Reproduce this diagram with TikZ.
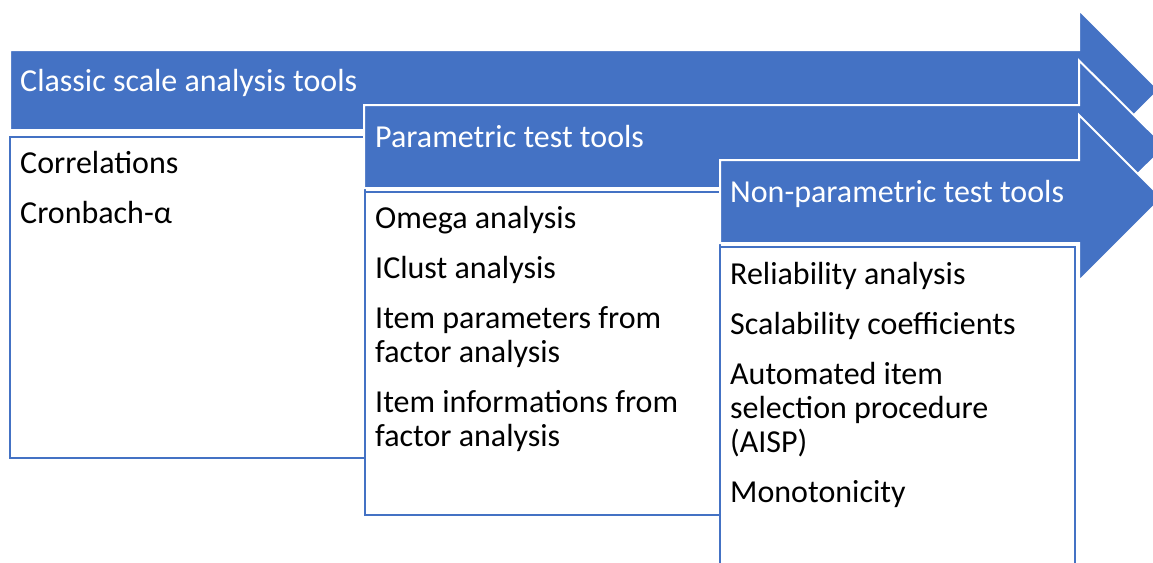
\documentclass[tikz,border=0pt]{standalone}
\usepackage{fontspec}
\setmainfont{Carlito}
\usepackage{tikz}
\definecolor{officeblue}{HTML}{4472C4}

\tikzset{
  stagearrow/.style={fill=officeblue, draw=white, line width=2pt, line join=miter},
  toolbox/.style={fill=white, draw=officeblue, line width=2.5pt},
  headtext/.style={anchor=base west, inner sep=0pt, text=white, font=\fontsize{32}{34}\selectfont},
  itemtext/.style={anchor=north west, inner sep=0pt, align=left, font=\fontsize{32}{34}\selectfont}
}

\begin{document}
\begin{tikzpicture}[x=1pt, y=-1pt]
      % Canvas, same size as the reference
      \useasboundingbox (0,0) rectangle (1153,562);
      \clip (0,0) rectangle (1153,562);

      % First stage: classic tools
      \draw[stagearrow] (10,50) -- (1079,50) -- (1079,10) -- (1159,90)
        -- (1079,170) -- (1079,130) -- (10,130) -- cycle;
      \node[headtext] (classic) at (20,91) {Classic scale analysis tools};
      \draw[toolbox] (10,137) rectangle (365,458);
      \node[itemtext] (classicitems) at (20,151.5) {Correlations\\[16pt]Cronbach-α};

      % Second stage: parametric tools
      \draw[stagearrow] (364,105) -- (1079,105) -- (1079,60.5) -- (1165.5,146.5)
        -- (1079,232.5) -- (1079,188) -- (364,188) -- cycle;
      \node[headtext] (param) at (375,147) {Parametric test tools};
      \draw[toolbox] (365,192) rectangle (720,515);
      \node[itemtext] (paramitems) at (375,206.5) {Omega analysis\\[16pt]IClust analysis\\[16pt]%
        Item parameters from\\factor analysis\\[16pt]Item informations from\\factor analysis};

      % Third stage: non-parametric tools
      \draw[stagearrow] (720,160) -- (1079,160) -- (1079,115) -- (1162,198)
        -- (1079,281) -- (1079,243) -- (720,243) -- cycle;
      \node[headtext] (nonparam) at (730,202) {Non-parametric test tools};
      \draw[toolbox] (720,247) rectangle (1075,600);
      \node[itemtext] (nonparamitems) at (730,262.5) {Reliability analysis\\[16pt]%
        Scalability coefficients\\[16pt]Automated item\\selection procedure\\(AISP)\\[16pt]Monotonicity};
\end{tikzpicture}
\end{document}
